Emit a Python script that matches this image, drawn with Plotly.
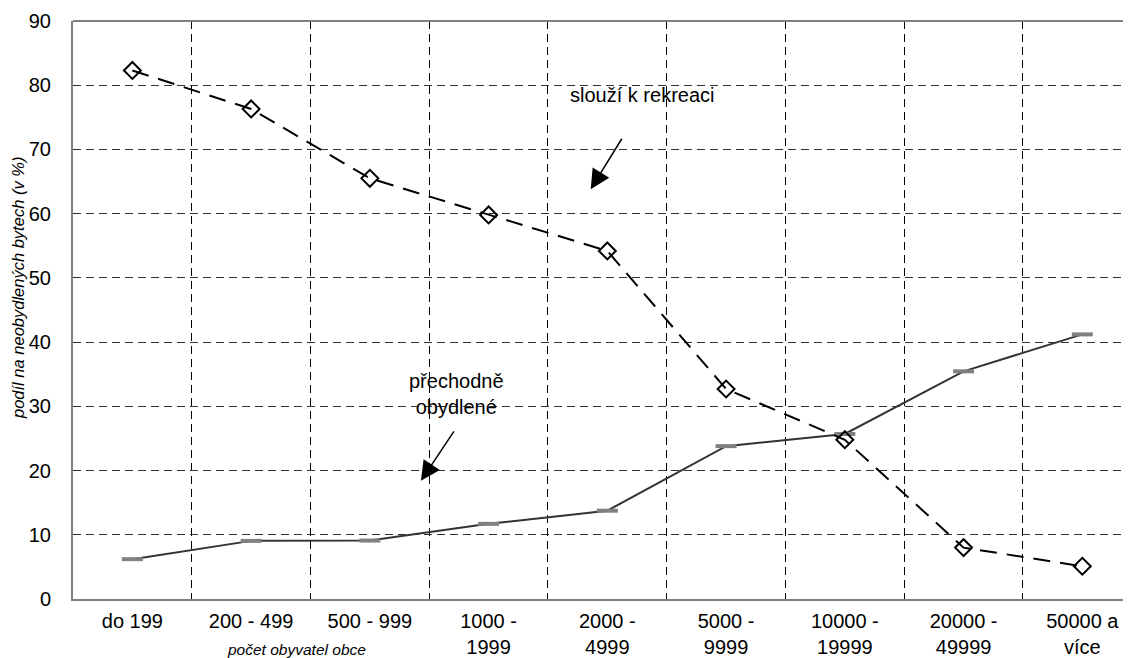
import plotly.graph_objects as go

categories = ["do 199", "200 - 499", "500 - 999", "1000 -<br>1999", "2000 -<br>4999",
              "5000 -<br>9999", "10000 -<br>19999", "20000 -<br>49999", "50000 a<br>více"]
rekreace = [82.3, 76.3, 65.5, 59.8, 54.2, 32.7, 24.8, 8.0, 5.1]
prechodne = [6.2, 9.05, 9.1, 11.7, 13.75, 23.8, 25.7, 35.45, 41.2]
y_ticks = [0, 10, 20, 30, 40, 50, 60, 70, 80, 90]

FONT = "Liberation Sans, Arial, sans-serif"
xpos = list(range(len(categories)))

fig = go.Figure()
fig.add_trace(go.Scatter(
    x=xpos, y=prechodne, mode="lines+markers", name="přechodně obydlené",
    line=dict(color="#333333", width=2),
    marker=dict(symbol="line-ew", size=15, line=dict(color="#808080", width=4)),
))
fig.add_trace(go.Scatter(
    x=xpos, y=rekreace, mode="lines+markers", name="slouží k rekreaci",
    line=dict(color="black", width=2, dash="17px,10px"),
    marker=dict(symbol="diamond-open", size=13, color="black", line=dict(color="black", width=2)),
))

# page body has an 8px margin, so the figure is shifted by 8px; compensate
fig.update_layout(
    width=1123, height=650,
    margin=dict(l=65, r=0, t=13, b=48),
    paper_bgcolor="white", plot_bgcolor="white",
    showlegend=False,
    font=dict(family=FONT, size=20, color="black"),
    xaxis=dict(
        range=[-0.5, 8.41], tickmode="array", tickvals=xpos, ticktext=categories,
        showgrid=False, zeroline=False, ticks="",
        showline=True, linecolor="#808080", linewidth=2, mirror=False,
        ticklabelstandoff=3,
        minor=dict(tickmode="array", tickvals=[i + 0.5 for i in range(8)],
                   showgrid=True, gridcolor="black", gridwidth=1, griddash="8px,5px", ticks=""),
        tickfont=dict(size=20),
    ),
    yaxis=dict(
        range=[0, 90], tickmode="array", tickvals=y_ticks,
        showgrid=True, gridcolor="#333333", gridwidth=1, griddash="8px,5px",
        zeroline=False, ticks="", ticklabelstandoff=16,
        showline=True, linecolor="#808080", linewidth=2, mirror=False,
        tickfont=dict(size=20),
    ),
)

# top border
fig.add_shape(type="line", xref="paper", yref="paper", x0=0, x1=1, y0=1, y1=1,
              line=dict(color="#808080", width=2))

# axis titles
fig.add_annotation(text="<i>podíl na neobydlených bytech (v %)</i>", xref="paper", yref="paper",
                   x=-0.052, y=0.538, textangle=-90, showarrow=False,
                   font=dict(size=16.5), xanchor="center", yanchor="middle")
fig.add_annotation(text="<i>počet obyvatel obce</i>", xref="x", yref="paper",
                   x=1.38, y=-0.087, showarrow=False, font=dict(size=15.5),
                   xanchor="center", yanchor="middle")

# series labels with arrows
fig.add_annotation(text="slouží k rekreaci", x=4.30, y=78.5, showarrow=False,
                   font=dict(size=20))
fig.add_annotation(text="", x=3.86, y=63.8, ax=32, ay=-52, showarrow=True,
                   arrowhead=2, arrowsize=2.6, arrowwidth=1.5, arrowcolor="black")
fig.add_annotation(text="přechodně<br>obydlené", x=2.73, y=31.9, showarrow=False,
                   font=dict(size=20))
fig.add_annotation(text="", x=2.43, y=18.4, ax=34, ay=-51, showarrow=True,
                   arrowhead=2, arrowsize=2.6, arrowwidth=1.5, arrowcolor="black")

fig.write_html("out.html")
